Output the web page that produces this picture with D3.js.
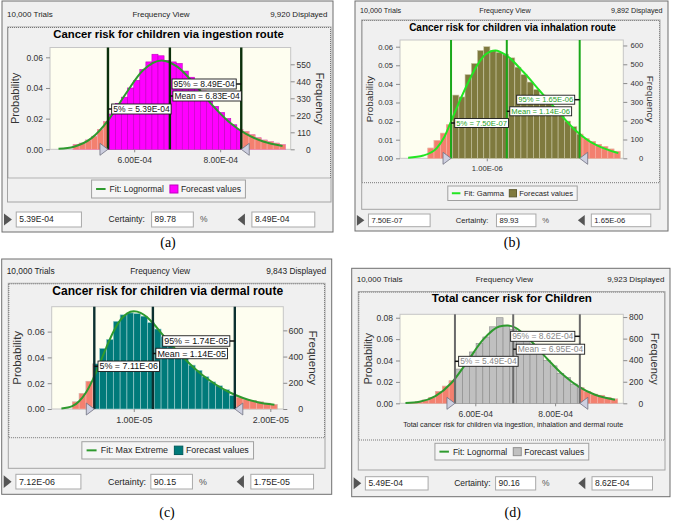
<!DOCTYPE html>
<html>
<head>
<meta charset="utf-8">
<script src="https://cdn.jsdelivr.net/npm/d3@7"></script>
<style>
  body { margin: 0; background: #fff; }
  svg { display: block; }
</style>
</head>
<body>
<div id="chart"></div>
<script>
// ---------------- data ----------------
var trials = 10000;
var panelIds = ["a", "b", "c", "d"];
var titles = [
  "Cancer risk for children via ingestion route",
  "Cancer risk for children via inhalation route",
  "Cancer risk for children via dermal route",
  "Total cancer risk for Children"
];
var xTitles = [null, null, null, "Total cancer risk for children via ingestion, inhalation and dermal route"];
var displayed = [9920, 9892, 9843, 9923];
var fitNames = ["Fit: Lognormal", "Fit: Gamma", "Fit: Max Extreme", "Fit: Lognormal"];
var certainty = ["89.78", "89.93", "90.15", "90.16"];
var lowBox = ["5.39E-04", "7.50E-07", "7.12E-06", "5.49E-04"];
var highBox = ["8.49E-04", "1.65E-06", "1.75E-05", "8.62E-04"];

// x values below (domains, ticks, stats, bin edges, curves) are in these units
var units = [1e-4, 1e-6, 1e-6, 1e-4];
var xDomains = [[4.042, 9.64], [0.393, 1.955], [3.99, 20.95], [4.113, 9.709]];
var xTicks = [[6, 8], [1], [10, 20], [6, 8]];
var probMax = [0.0664, 0.0636, 0.0793, 0.0832];
var probTicks = [
  [0, 0.02, 0.04, 0.06],
  [0, 0.01, 0.02, 0.03, 0.04, 0.05, 0.06],
  [0, 0.02, 0.04, 0.06],
  [0, 0.02, 0.04, 0.06, 0.08]
];
var freqTicks = [
  [0, 110, 220, 330, 440, 550],
  [0, 100, 200, 300, 400, 500, 600],
  [0, 200, 400, 600],
  [0, 200, 400, 600, 800]
];
// 5%, mean, 95%
var stats = [[5.39, 6.83, 8.49], [0.75, 1.14, 1.65], [7.11, 11.4, 17.4], [5.49, 6.95, 8.62]];

var edgesA = [4.580, 4.721, 4.862, 5.003, 5.144, 5.285, 5.426, 5.567, 5.708, 5.849, 5.990, 6.131,
  6.272, 6.413, 6.554, 6.695, 6.836, 6.977, 7.118, 7.259, 7.400, 7.541, 7.682, 7.823, 7.964, 8.105,
  8.246, 8.387, 8.528, 8.669, 8.810, 8.951, 9.092, 9.233, 9.374, 9.515];
var probA = [0.003, 0.004, 0.006, 0.0085, 0.013, 0.018, 0.023, 0.030, 0.034, 0.040, 0.045, 0.052,
  0.057, 0.062, 0.061, 0.058, 0.057, 0.056, 0.051, 0.047, 0.043, 0.038, 0.033, 0.028, 0.024, 0.020,
  0.016, 0.013, 0.0115, 0.0095, 0.0075, 0.006, 0.005, 0.004, 0.003];
var fitA = [[4.24, 0.0003], [4.6, 0.0017], [5.0, 0.0071], [5.4, 0.0191], [5.8, 0.0361], [6.2, 0.0514],
  [6.64, 0.058], [7.0, 0.0539], [7.4, 0.0426], [7.8, 0.0293], [8.2, 0.018], [8.6, 0.010], [9.0, 0.0051], [9.45, 0.0022]];

var edgesB = [0.588, 0.631, 0.675, 0.718, 0.762, 0.805, 0.848, 0.892, 0.935, 0.979, 1.022, 1.065,
  1.109, 1.152, 1.196, 1.239, 1.282, 1.326, 1.369, 1.413, 1.456, 1.499, 1.543, 1.586, 1.630, 1.673,
  1.716, 1.760, 1.803, 1.847, 1.890, 1.933];
var probB = [0.0055, 0.0095, 0.0135, 0.018, 0.034, 0.033, 0.045, 0.051, 0.058, 0.060, 0.058, 0.057,
  0.056, 0.054, 0.049, 0.045, 0.041, 0.037, 0.034, 0.030, 0.027, 0.023, 0.020, 0.017, 0.013, 0.0105,
  0.009, 0.0075, 0.0063, 0.005, 0.0038];
var fitB = [[0.45, 0.0003], [0.556, 0.0015], [0.65, 0.0055], [0.70, 0.011], [0.743, 0.0185], [0.789, 0.027],
  [0.859, 0.039], [0.929, 0.0495], [0.99, 0.0558], [1.06, 0.058], [1.139, 0.0552], [1.255, 0.0465],
  [1.372, 0.0362], [1.489, 0.026], [1.605, 0.0162], [1.722, 0.009], [1.839, 0.0048], [1.92, 0.0028]];

var edgesC = [5.5, 6, 6.5, 7, 7.5, 8, 8.5, 9, 9.5, 10, 10.5, 11, 11.5, 12, 12.5, 13, 13.5, 14, 14.5,
  15, 15.5, 16, 16.5, 17, 17.5, 18, 18.5, 19, 19.5, 20, 20.5];
var probC = [0.0055, 0.012, 0.0215, 0.035, 0.047, 0.054, 0.068, 0.073, 0.0745, 0.074, 0.072, 0.067,
  0.062, 0.056, 0.050, 0.044, 0.040, 0.034, 0.030, 0.025, 0.021, 0.018, 0.015, 0.0105, 0.009, 0.0075,
  0.0065, 0.0055, 0.0045, 0.0035];
var fitC = [[4.7, 0.0004], [5.5, 0.0022], [6.0, 0.006], [6.5, 0.0128], [7.0, 0.0228], [7.5, 0.035],
  [8.0, 0.048], [8.5, 0.0597], [9.0, 0.0687], [9.5, 0.074], [10.0, 0.0757], [10.5, 0.0745], [11.0, 0.071],
  [11.5, 0.0655], [12.0, 0.059], [13.0, 0.047], [14.0, 0.036], [15.0, 0.0265], [16.0, 0.019],
  [17.0, 0.013], [18.0, 0.0085], [19.0, 0.0055], [20.3, 0.0033]];

var edgesD = [4.330, 4.499, 4.668, 4.837, 5.006, 5.175, 5.344, 5.513, 5.682, 5.851, 6.020, 6.189,
  6.358, 6.527, 6.696, 6.865, 7.034, 7.203, 7.372, 7.541, 7.710, 7.879, 8.048, 8.217, 8.386, 8.555,
  8.724, 8.893, 9.062, 9.231, 9.400, 9.569];
var probD = [0.0008, 0.0015, 0.003, 0.0055, 0.011, 0.016, 0.021, 0.032, 0.043, 0.048, 0.056, 0.062,
  0.0715, 0.080, 0.073, 0.069, 0.066, 0.060, 0.055, 0.049, 0.040, 0.035, 0.028, 0.024, 0.018, 0.0145,
  0.011, 0.0085, 0.0075, 0.0055, 0.004];
var fitD = [[4.25, 0.0002], [4.6, 0.0014], [5.0, 0.0067], [5.4, 0.019], [5.8, 0.039], [6.2, 0.0597],
  [6.6, 0.0718], [6.8, 0.0728], [7.0, 0.0708], [7.4, 0.058], [7.8, 0.0417], [8.2, 0.0266],
  [8.6, 0.0153], [9.0, 0.008], [9.5, 0.0033]];

var edges = [edgesA, edgesB, edgesC, edgesD];
var probs = [probA, probB, probC, probD];
var fits = [fitA, fitB, fitC, fitD];

// ---------------- look ----------------
var styles = [
  { bar: "#ff00ff", edge: "#c000c0", fit: "#2e9a2e", vline: "#0b300b", vlineW: 2.4, label: "#111" },
  { bar: "#7f7a3e", edge: "#c9c6a4", fit: "#22e622", vline: "#1aa81a", vlineW: 2, label: "#1f9f1f" },
  { bar: "#007a7a", edge: "#9fcfcf", fit: "#2e9a2e", vline: "#0c3030", vlineW: 2.4, label: "#111" },
  { bar: "#c0c0c0", edge: "#8a8a8a", fit: "#2e9a2e", vline: "#6a6a6a", vlineW: 2, label: "#888" }
];
var tailFill = "#f3806f", tailEdge = "#f8b4aa";

var layouts = [
  { outer: [2, 1, 331, 231], headerY: 17, dotted: [7.5, 27, 323.5, 151], frameBottom: 202,
    titleY: 37.5, titleSize: 11.3, plot: [50, 290.7, 47.5, 149.3], probDx: 35, freqDx: 29.3,
    labelY: [109, 96, 84], legendY: 180, legendH: 18, rowY: 212, rowH: 15, caption: [168, 247], s: 1 },
  { outer: [355, 1, 313, 230], headerY: 13, dotted: [361.7, 20, 298.3, 162.7], frameBottom: 209.3,
    titleY: 30.5, titleSize: 10, plot: [400, 623.3, 40, 158.3], probDx: 30, freqDx: 26.7,
    labelY: [123, 111.3, 99.7], legendY: 186, legendH: 14.5, rowY: 214, rowH: 12.7, caption: [512, 247], s: 0.9 },
  { outer: [1.7, 259, 330, 235.3], headerY: 273.5, dotted: [8.3, 283.3, 316.7, 154.4], frameBottom: 468.3,
    titleY: 294.5, titleSize: 12, plot: [51.7, 283.3, 306.7, 409], probDx: 35, freqDx: 30,
    labelY: [366.3, 353.5, 341], legendY: 441.7, legendH: 17.3, rowY: 474.3, rowH: 14.7, caption: [167, 517], s: 1.05 },
  { outer: [351.7, 268.3, 318.3, 228.4], headerY: 281.5, dotted: [358.3, 291.7, 306.7, 148.3], frameBottom: 470,
    titleY: 302, titleSize: 11.6, plot: [400, 623.3, 314.3, 403.3], probDx: 32.3, freqDx: 31.7, xTitleY: 427,
    labelY: [361.3, 349.2, 336.3], legendY: 443.3, legendH: 16.7, rowY: 476.7, rowH: 13.3, caption: [512.7, 517], s: 1 }
];

var font = "Liberation Sans, Arial, sans-serif";

// 6.00e-4 -> 6.00E-04
function sci(v) {
  return v.toExponential(2).toUpperCase().replace(/E([+-])(\d)$/, "E$10$2");
}

function addText(g, x, y, str, size, anchor) {
  return g.append("text")
    .attr("x", x).attr("y", y)
    .attr("font-family", font)
    .attr("font-size", size)
    .attr("text-anchor", anchor || "start")
    .attr("fill", "#1e1e1e")
    .text(str);
}

var svg = d3.select("#chart").append("svg")
  .attr("width", 674)
  .attr("height", 522);
var defs = svg.append("defs");

panelIds.forEach(function (id, i) { drawPanel(i); });

function drawPanel(i) {
  var L = layouts[i], st = styles[i], s = L.s, u = units[i];
  var ox = L.outer[0], oy = L.outer[1], ow = L.outer[2], oh = L.outer[3];
  var P = L.plot;
  var g = svg.append("g").attr("class", "panel-" + panelIds[i]);

  // window background
  g.append("rect")
    .attr("x", ox).attr("y", oy).attr("width", ow).attr("height", oh)
    .attr("fill", "#f0f0f0").attr("stroke", "#6f6f6f");

  // header row
  addText(g, ox + 5, L.headerY, d3.format(",")(trials) + " Trials", 8 * s, "start");
  addText(g, ox + ow / 2 - 6.5, L.headerY, "Frequency View", 8 * s, "middle");
  addText(g, ox + ow - 5.5, L.headerY, d3.format(",")(displayed[i]) + " Displayed", 8 * s, "end");

  // chart frame + dotted chart area
  var D = L.dotted;
  g.append("rect")
    .attr("x", D[0]).attr("y", D[1]).attr("width", D[2]).attr("height", L.frameBottom - D[1])
    .attr("fill", "none").attr("stroke", "#a4a4a4");
  g.append("rect")
    .attr("x", D[0] + 0.5).attr("y", D[1] + 0.5).attr("width", D[2] - 1).attr("height", D[3] - 0.5)
    .attr("fill", "#f0f0f0").attr("stroke", "#777").attr("stroke-dasharray", "1,1");

  addText(g, ox + ow / 2 + 1, L.titleY, titles[i], L.titleSize, "middle")
    .attr("font-weight", "bold").attr("fill", "#000");

  // scales
  var x = d3.scaleLinear().domain(xDomains[i]).range([P[0], P[1]]);
  var y = d3.scaleLinear().domain([0, probMax[i]]).range([P[3], P[2]]);
  var yF = d3.scaleLinear().domain([0, probMax[i] * displayed[i]]).range([P[3], P[2]]);

  g.append("rect")
    .attr("x", P[0]).attr("y", P[2]).attr("width", P[1] - P[0]).attr("height", P[3] - P[2])
    .attr("fill", "#fefef0").attr("stroke", "#c6c6c6");

  // histogram
  var binData = probs[i].map(function (v, k) {
    return { x0: edges[i][k], x1: edges[i][k + 1], v: v };
  });
  var lo = stats[i][0], mean = stats[i][1], hi = stats[i][2];

  var clipId = "tails-" + panelIds[i];
  var clip = defs.append("clipPath").attr("id", clipId);
  clip.append("rect")
    .attr("x", P[0] - 2).attr("y", P[2] - 2)
    .attr("width", x(lo) - P[0] + 2).attr("height", P[3] - P[2] + 4);
  clip.append("rect")
    .attr("x", x(hi)).attr("y", P[2] - 2)
    .attr("width", P[1] - x(hi) + 2).attr("height", P[3] - P[2] + 4);

  function drawBars(sel, fill, stroke) {
    sel.selectAll("rect")
      .data(binData)
      .enter()
      .append("rect")
      .attr("x", function (d) { return x(d.x0); })
      .attr("width", function (d) { return x(d.x1) - x(d.x0); })
      .attr("y", function (d) { return y(d.v); })
      .attr("height", function (d) { return y(0) - y(d.v); })
      .attr("fill", fill)
      .attr("stroke", stroke)
      .attr("stroke-width", 0.6);
  }
  drawBars(g.append("g"), st.bar, st.edge);
  drawBars(g.append("g").attr("clip-path", "url(#" + clipId + ")"), tailFill, tailEdge);

  // fitted distribution
  var line = d3.line()
    .x(function (d) { return x(d[0]); })
    .y(function (d) { return y(d[1]); })
    .curve(d3.curveMonotoneX);
  g.append("path")
    .datum(fits[i])
    .attr("d", line)
    .attr("fill", "none")
    .attr("stroke", st.fit)
    .attr("stroke-width", 2);

  // 5% / mean / 95% lines
  stats[i].forEach(function (v) {
    g.append("line")
      .attr("x1", x(v)).attr("x2", x(v))
      .attr("y1", P[2]).attr("y2", P[3])
      .attr("stroke", st.vline)
      .attr("stroke-width", st.vlineW);
  });

  // certainty grabbers
  var gy = y(0);
  g.append("path")
    .attr("d", "M" + (x(lo) - 8) + "," + (gy - 6) + "L" + x(lo) + "," + gy + "L" + (x(lo) - 8) + "," + (gy + 6) + "Z")
    .attr("fill", "#cdcfe0").attr("stroke", "#6f7080").attr("stroke-width", 0.8);
  g.append("path")
    .attr("d", "M" + (x(hi) + 8) + "," + (gy - 6) + "L" + x(hi) + "," + gy + "L" + (x(hi) + 8) + "," + (gy + 6) + "Z")
    .attr("fill", "#cdcfe0").attr("stroke", "#6f7080").attr("stroke-width", 0.8);

  // axes
  function styleAxis(ax, size) {
    ax.attr("font-family", font).attr("font-size", size);
    ax.select(".domain").remove();
    ax.selectAll(".tick line").attr("stroke", "#8a8a8a");
    ax.selectAll(".tick text").attr("fill", "#333");
  }
  var axL = g.append("g")
    .attr("transform", "translate(" + P[0] + ",0)")
    .call(d3.axisLeft(y).tickValues(probTicks[i]).tickFormat(d3.format(".2f")).tickSize(4).tickPadding(3));
  styleAxis(axL, 8.5 * s);

  var axR = g.append("g")
    .attr("transform", "translate(" + P[1] + ",0)")
    .call(d3.axisRight(yF).tickValues(freqTicks[i]).tickFormat(d3.format("d")).tickSize(4));
  styleAxis(axR, 8.5 * s);
  axR.selectAll(".tick text").attr("x", 20).attr("text-anchor", "end");

  var axB = g.append("g")
    .attr("transform", "translate(0," + P[3] + ")")
    .call(d3.axisBottom(x).tickValues(xTicks[i]).tickFormat(function (v) { return sci(v * u); })
      .tickSize(3).tickPadding(4.5));
  styleAxis(axB, 8.5 * s);

  var cy = (P[2] + P[3]) / 2;
  addText(g, 0, 0, "Probability", 11 * s, "middle")
    .attr("transform", "translate(" + (P[0] - L.probDx) + "," + cy + ") rotate(-90)")
    .attr("dy", "0.35em").attr("fill", "#333");
  addText(g, 0, 0, "Frequency", 11 * s, "middle")
    .attr("transform", "translate(" + (P[1] + L.freqDx) + "," + cy + ") rotate(90)")
    .attr("dy", "0.35em").attr("fill", "#333");

  if (xTitles[i]) {
    addText(g, (P[0] + P[1]) / 2 + 1.5, L.xTitleY, xTitles[i], 6.8 * s, "middle")
      .attr("textLength", 220).attr("lengthAdjust", "spacingAndGlyphs").attr("fill", "#222");
  }

  // value labels on the lines
  var names = ["5%", "Mean", "95%"];
  stats[i].forEach(function (v, k) {
    var xl = x(v), yc = L.labelY[k], fs = 8.5 * s, h = 10 * s;
    var lab = g.append("g");
    var t = addText(lab, 0, yc + fs * 0.35, names[k] + " = " + sci(v * u), fs, "start")
      .attr("fill", st.label);
    var w = t.node().getComputedTextLength() + 3;
    var bx = k === 2 ? xl - 5 - w : xl + (k === 0 ? 3.7 : 3);
    lab.insert("rect", "text")
      .attr("x", bx).attr("y", yc - h / 2).attr("width", w).attr("height", h)
      .attr("fill", "#fff").attr("stroke", "#1a1a1a").attr("stroke-width", 0.9);
    t.attr("x", bx + 1.5);
    lab.append("line")
      .attr("x1", xl).attr("x2", k === 2 ? bx + w : bx)
      .attr("y1", yc).attr("y2", yc)
      .attr("stroke", "#111").attr("stroke-width", 1.5);
  });

  // legend
  var lf = 8.5 * s, lc = L.legendY + L.legendH / 2;
  var lg = g.append("g");
  var t1 = addText(lg, 0, lc + lf * 0.35, fitNames[i], lf);
  var t2 = addText(lg, 0, lc + lf * 0.35, "Forecast values", lf);
  var w1 = t1.node().getComputedTextLength(), w2 = t2.node().getComputedTextLength();
  var pad = 4.5 * s, lineW = 9.5 * s, gap1 = 4 * s, gap2 = 6 * s, sq = 8 * s, gap3 = 3 * s;
  var total = pad + lineW + gap1 + w1 + gap2 + sq + gap3 + w2 + pad;
  var lx = ox + ow / 2 + 1 - total / 2;
  lg.insert("rect", "text")
    .attr("x", lx).attr("y", L.legendY).attr("width", total).attr("height", L.legendH)
    .attr("fill", "#f5f5f5").attr("stroke", "#a0a0a0");
  lg.append("line")
    .attr("x1", lx + pad).attr("x2", lx + pad + lineW)
    .attr("y1", lc).attr("y2", lc)
    .attr("stroke", st.fit).attr("stroke-width", 2);
  t1.attr("x", lx + pad + lineW + gap1);
  var sqx = lx + pad + lineW + gap1 + w1 + gap2;
  lg.append("rect")
    .attr("x", sqx).attr("y", lc - sq / 2).attr("width", sq).attr("height", sq)
    .attr("fill", st.bar).attr("stroke", d3.color(st.bar).darker(0.8));
  t2.attr("x", sqx + sq + gap3);

  // certainty row
  var rc = L.rowY + L.rowH / 2, rf = 8.5 * s;
  function field(f0, f1, str) {
    g.append("rect")
      .attr("x", ox + ow * f0).attr("y", L.rowY)
      .attr("width", ow * (f1 - f0)).attr("height", L.rowH)
      .attr("fill", "#fff").attr("stroke", "#a9a9a9");
    addText(g, ox + ow * f0 + 3, rc + rf * 0.35, str, rf);
  }
  g.append("path")
    .attr("d", "M" + (ox + ow * 0.006) + "," + (rc - 6 * s) + "L" + (ox + ow * 0.03) + "," + rc +
      "L" + (ox + ow * 0.006) + "," + (rc + 6 * s) + "Z")
    .attr("fill", "#555");
  field(0.043, 0.240, lowBox[i]);
  addText(g, ox + ow * 0.322, rc + rf * 0.35, "Certainty:", rf);
  field(0.452, 0.578, certainty[i]);
  addText(g, ox + ow * 0.598, rc + rf * 0.35, "%", rf).attr("fill", "#555");
  g.append("path")
    .attr("d", "M" + (ox + ow * 0.734) + "," + (rc - 6 * s) + "L" + (ox + ow * 0.712) + "," + rc +
      "L" + (ox + ow * 0.734) + "," + (rc + 6 * s) + "Z")
    .attr("fill", "#555");
  field(0.755, 0.945, highBox[i]);

  // caption
  svg.append("text")
    .attr("x", L.caption[0]).attr("y", L.caption[1])
    .attr("font-family", "Liberation Serif, Times New Roman, serif")
    .attr("font-size", 14)
    .attr("text-anchor", "middle")
    .text("(" + panelIds[i] + ")");
}
</script>
</body>
</html>
